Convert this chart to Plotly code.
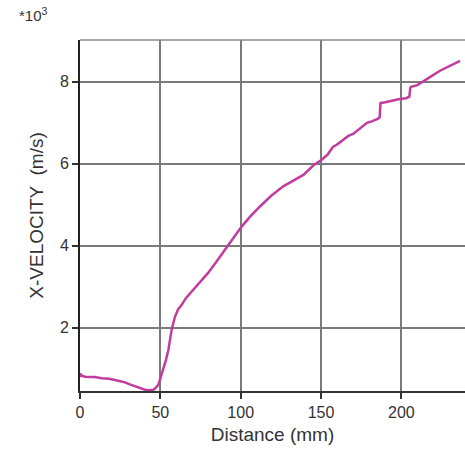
import plotly.graph_objects as go

# Distance along the path (mm) and x-velocity (thousands of m/s)
distance_mm = [0, 0.5, 1.5, 3, 6, 9, 13.5, 18, 21.8, 25,
               28, 31, 34.2, 37, 40.4, 43, 45.6, 47, 48.7, 50,
               51.8, 53.5, 55, 56, 57, 59.1, 61, 63.3, 66, 70.5,
               75, 79.7, 85, 91.3, 96, 100.6, 106, 112, 119, 126.5,
               133, 139, 145.5, 150.4, 154, 157.4, 160, 164, 167, 170,
               174, 178.6, 182, 185.5, 186.5, 187, 190, 195, 199, 203,
               205, 205.5, 206, 210, 213.5, 218, 224, 230, 236.5]
x_velocity_k = [0.80, 0.86, 0.83, 0.81, 0.80, 0.80, 0.77, 0.76, 0.73, 0.70,
                0.67, 0.62, 0.57, 0.53, 0.49, 0.48, 0.49, 0.53, 0.61, 0.76,
                0.98, 1.22, 1.46, 1.71, 1.95, 2.27, 2.45, 2.56, 2.73, 2.93,
                3.13, 3.34, 3.62, 3.95, 4.22, 4.47, 4.72, 4.96, 5.22, 5.45,
                5.60, 5.73, 5.97, 6.10, 6.22, 6.41, 6.47, 6.60, 6.68, 6.73,
                6.85, 7.00, 7.04, 7.10, 7.14, 7.48, 7.50, 7.55, 7.58, 7.60,
                7.64, 7.84, 7.88, 7.92, 8.00, 8.12, 8.27, 8.38, 8.51]
assert len(distance_mm) == len(x_velocity_k)

x_ticks = [0, 50, 100, 150, 200]
y_ticks = [2, 4, 6, 8]

font_family = "Liberation Sans, Arial, sans-serif"
text_color = "#333333"

fig = go.Figure()
fig.add_trace(go.Scatter(
    x=distance_mm, y=x_velocity_k, mode="lines",
    line=dict(color="#C13C9D", width=2.5),
    showlegend=False, hoverinfo="skip",
))

fig.update_layout(
    width=465, height=450,
    margin=dict(l=80, r=0, t=40, b=59),
    paper_bgcolor="white", plot_bgcolor="white",
    font=dict(family=font_family, size=16, color=text_color),
    xaxis=dict(
        range=[0, 239.6], tickvals=x_ticks,
        tickfont=dict(family=font_family, size=16, color=text_color),
        showgrid=True, gridcolor="#7a7a7a", gridwidth=1.5,
        zeroline=False, showline=True, linecolor="#333333", linewidth=2,
        ticks="outside", ticklen=6, tickwidth=1.5, tickcolor="#333333",
        title=dict(text="Distance (mm)", standoff=7,
                   font=dict(family=font_family, size=19, color=text_color)),
    ),
    yaxis=dict(
        range=[0.46, 9.02], tickvals=y_ticks,
        tickfont=dict(family=font_family, size=16, color=text_color),
        showgrid=True, gridcolor="#7a7a7a", gridwidth=1.5,
        zeroline=False, showline=True, linecolor="#222222", linewidth=2,
        ticks="outside", ticklen=6, tickwidth=1.5, tickcolor="#333333",
        title=dict(text="X-VELOCITY  (m/s)", standoff=11,
                   font=dict(family=font_family, size=19, color=text_color)),
    ),
    shapes=[dict(type="line", xref="paper", yref="paper", x0=0, x1=1, y0=1, y1=1,
                 line=dict(color="#8a8a8a", width=1.5))],
    annotations=[dict(
        text="*10<sup>3</sup>", xref="paper", yref="paper",
        x=-0.163, y=1.072, xanchor="left", yanchor="middle", showarrow=False,
        font=dict(family=font_family, size=15, color=text_color),
    )],
)

fig.write_html("out.html")
